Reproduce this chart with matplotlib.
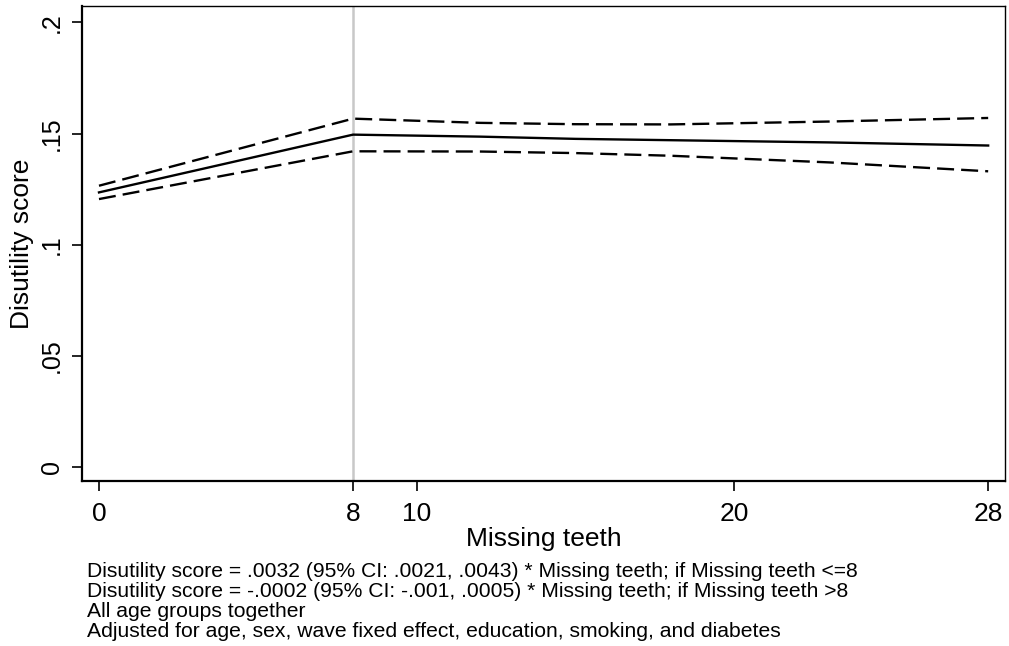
import matplotlib
matplotlib.use("Agg")
import matplotlib.pyplot as plt

# ---------------------------- data ----------------------------
teeth = [0, 8, 12, 15, 18, 23, 28]
score = [0.1235, 0.1495, 0.1486, 0.1476, 0.1470, 0.1460, 0.1446]
ci_upper = [0.1265, 0.1567, 0.1548, 0.1542, 0.1541, 0.1554, 0.1570]
ci_lower = [0.1205, 0.1420, 0.1419, 0.1412, 0.1400, 0.1370, 0.1330]
knot = 8

x_ticks = [0, 8, 10, 20, 28]
y_ticks = [0, 0.05, 0.1, 0.15, 0.2]
y_tick_labels = ["0", ".05", ".1", ".15", ".2"]

notes = [
    "Disutility score = .0032 (95% CI: .0021, .0043) * Missing teeth; if Missing teeth <=8",
    "Disutility score = -.0002 (95% CI: -.001, .0005) * Missing teeth; if Missing teeth >8",
    "All age groups together",
    "Adjusted for age, sex, wave fixed effect, education, smoking, and diabetes",
]

plt.rcParams["font.family"] = ["Liberation Sans", "DejaVu Sans"]

# ---------------------------- draw ----------------------------
fig = plt.figure(figsize=(10.09, 6.46), dpi=100)
ax = fig.add_axes([82 / 1009, 1 - 481 / 646, (1005 - 82) / 1009, (481 - 6) / 646])

ax.axvline(knot, color="#c8c8c8", lw=1.8, zorder=1)
ax.plot(teeth, score, color="black", lw=1.7, zorder=3)
ax.plot(teeth, ci_upper, color="black", lw=1.7, dashes=(7.2, 3.0), zorder=3)
ax.plot(teeth, ci_lower, color="black", lw=1.7, dashes=(7.2, 3.0), zorder=3)

ax.set_xlim(-0.535, 28.53)
ax.set_ylim(-0.0064, 0.2074)

ax.set_xticks(x_ticks)
ax.set_xticklabels([str(t) for t in x_ticks], fontsize=19)
ax.set_yticks(y_ticks)
ax.set_yticklabels(y_tick_labels, fontsize=18, rotation=90, va="center")
ax.tick_params(axis="x", length=7, width=1.2, pad=8)
ax.tick_params(axis="y", length=7, width=1.2, pad=6)

for side in ["left", "bottom"]:
    ax.spines[side].set_linewidth(1.6)
for side in ["top", "right"]:
    ax.spines[side].set_linewidth(1.0)

ax.set_xlabel("Missing teeth", fontsize=19, labelpad=1)
ax.set_ylabel("Disutility score", fontsize=19, labelpad=4)

for i, line in enumerate(notes):
    fig.text(87 / 1009, 1 - (577 + 20 * i) / 646, line, fontsize=15.2,
             ha="left", va="baseline")

fig.savefig("out.png", dpi=100)
